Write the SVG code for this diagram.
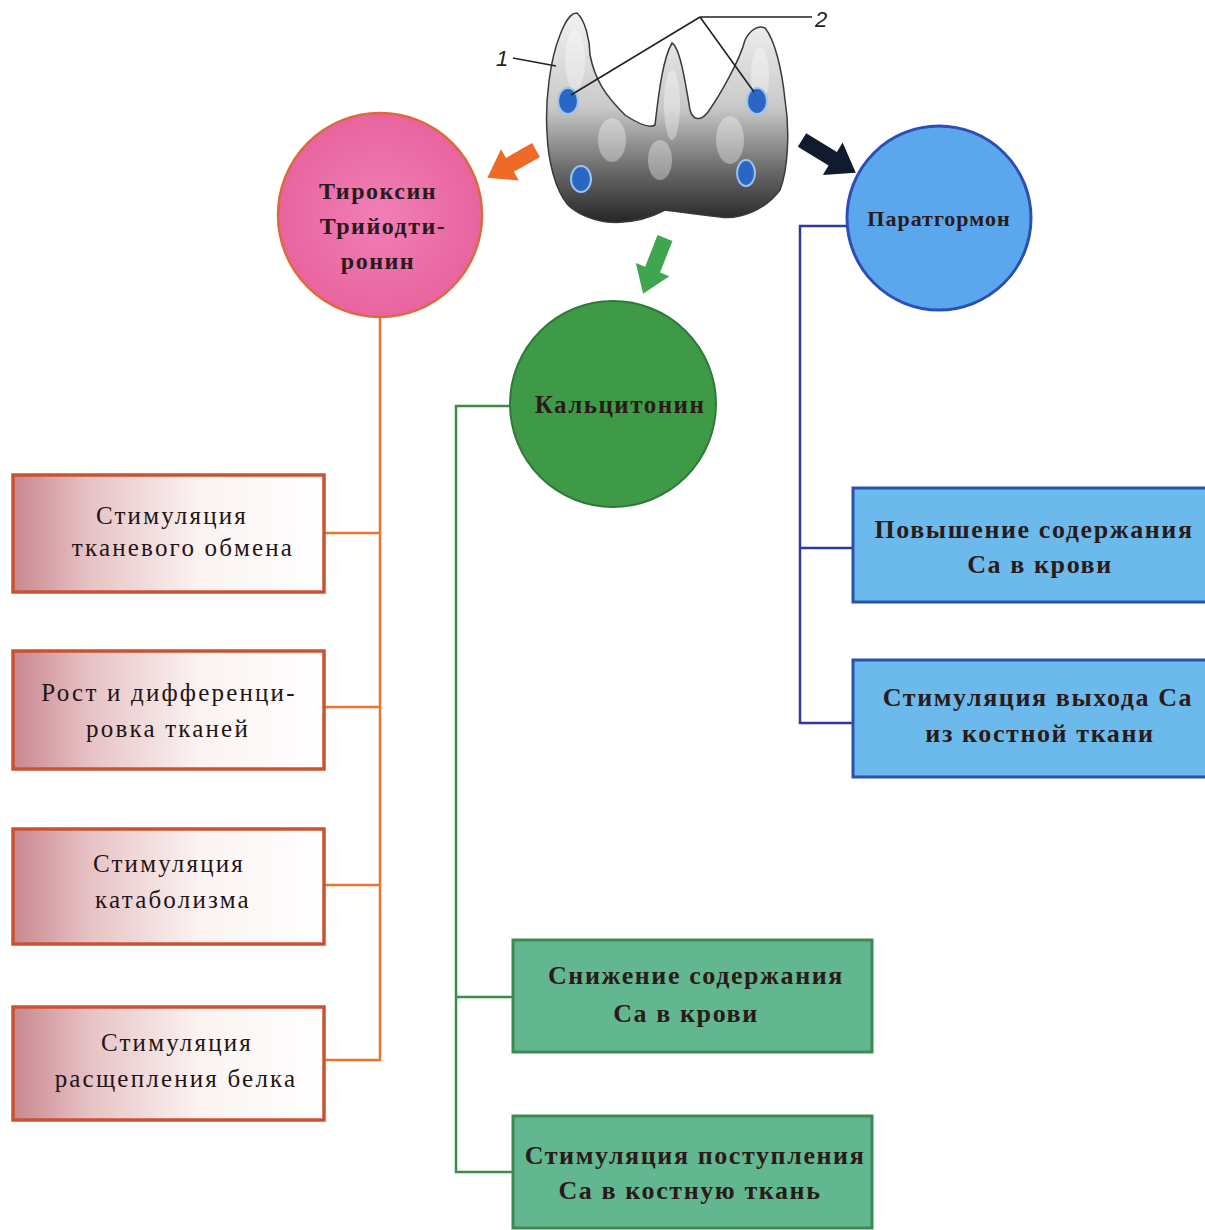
<svg xmlns="http://www.w3.org/2000/svg" width="1205" height="1230" viewBox="0 0 1205 1230">
  <defs>
    <linearGradient id="gland" x1="0" y1="0" x2="0" y2="1">
      <stop offset="0" stop-color="#f2f2f2"/>
      <stop offset="0.45" stop-color="#c9c9c9"/>
      <stop offset="0.75" stop-color="#6a6a6a"/>
      <stop offset="1" stop-color="#262626"/>
    </linearGradient>
    <radialGradient id="pinkFill" cx="0.5" cy="0.5" r="0.5">
      <stop offset="0" stop-color="#f07fb6"/>
      <stop offset="1" stop-color="#e9649f"/>
    </radialGradient>
    <linearGradient id="roseBox" x1="0" y1="0" x2="1" y2="0">
      <stop offset="0" stop-color="#c8878f"/>
      <stop offset="0.25" stop-color="#e7c3c6"/>
      <stop offset="0.6" stop-color="#fbf3f2"/>
      <stop offset="1" stop-color="#ffffff"/>
    </linearGradient>
    <style>
      .lbl { font-family: "Liberation Serif", "DejaVu Serif", serif; text-anchor: middle; fill: #2a1a1a; }
      .rose { font-size: 25px; letter-spacing: 2.2px; fill: #231414; }
      .bold { font-weight: bold; font-size: 26px; letter-spacing: 1.6px; }
      .circ { font-weight: bold; font-size: 24px; letter-spacing: 1.5px; }
      .roseRect { fill: url(#roseBox); stroke: #c9532f; stroke-width: 3.5; }
      .greenRect { fill: #62b790; stroke: #3d8a55; stroke-width: 3; }
      .blueRect { fill: #6cbaeb; stroke: #2c50ad; stroke-width: 3; }
      .orangeLine { fill: none; stroke: #e8762e; stroke-width: 2.5; }
      .greenLine { fill: none; stroke: #3c8c4a; stroke-width: 2.5; }
      .blueLine { fill: none; stroke: #2c3c9a; stroke-width: 2.5; }
      .leader { fill: none; stroke: #222; stroke-width: 1.6; }
      .num { font-family: "Liberation Sans", "DejaVu Sans", sans-serif; font-style: italic; font-size: 22px; fill: #222; }
    </style>
  </defs>

  <rect width="1205" height="1230" fill="#ffffff"/>

  <!-- thyroid gland with four parathyroid glands -->
  <g id="gland">
    <path d="M577,13 C585,20 590,40 590,55 C595,80 605,95 625,115 C640,125 650,128 655,125 C658,100 662,60 672,43 C680,48 685,80 690,110 C693,120 700,122 708,112 C720,95 740,60 745,40 C750,30 758,25 765,28 C775,40 782,70 785,100 C790,130 788,170 780,190 C765,210 740,220 720,217 C700,215 680,212 665,210 C650,218 630,224 607,222 C590,220 575,212 568,205 C555,190 548,160 547,133 C545,100 550,60 560,35 C565,22 570,13 577,13 Z" fill="url(#gland)" stroke="#3a3a3a" stroke-width="1.5"/>
    <g fill="#ffffff" opacity="0.35">
      <ellipse cx="575" cy="60" rx="10" ry="30"/>
      <ellipse cx="612" cy="140" rx="14" ry="22"/>
      <ellipse cx="672" cy="105" rx="8" ry="35"/>
      <ellipse cx="660" cy="160" rx="12" ry="20"/>
      <ellipse cx="730" cy="140" rx="14" ry="24"/>
      <ellipse cx="760" cy="75" rx="9" ry="28"/>
    </g>
    <g fill="#2a67c4" stroke="#9cc4ee" stroke-width="2">
      <ellipse cx="568" cy="101" rx="10" ry="13"/>
      <ellipse cx="581" cy="179" rx="10" ry="13"/>
      <ellipse cx="757" cy="101" rx="10" ry="13"/>
      <ellipse cx="746" cy="173" rx="9" ry="13"/>
    </g>
    <path class="leader" d="M513,58 L556,66"/>
    <path class="leader" d="M700,17 L812,17 M700,17 L571,95 M700,17 L754,92"/>
    <text class="num" x="496" y="66">1</text>
    <text class="num" x="815" y="27">2</text>
  </g>

  <!-- connectors and hormone arrows -->
  <g id="connectors">
    <path class="orangeLine" d="M380,318 V1060 H325 M325,533 H380 M325,707 H380 M325,885 H380"/>
    <path class="greenLine" d="M510,406 H456 V1172 H512 M456,997 H512"/>
    <path class="blueLine" d="M848,226 H800 V723 H852 M800,548 H852"/>
    <polygon points="0,-8 30,-8 30,-18 56,0 30,18 30,8 0,8" fill="#ef6a26" transform="translate(536,150) rotate(150.3)"/>
    <polygon points="0,-8 36,-8 36,-19 63,0 36,19 36,8 0,8" fill="#111b2e" transform="translate(802,140) rotate(31.4)"/>
    <polygon points="0,-8 34,-8 34,-18 60,0 34,18 34,8 0,8" fill="#3fa54e" transform="translate(665,238) rotate(111.4)"/>
  </g>

  <g id="thyroxine">
    <circle cx="380" cy="215" r="102" fill="url(#pinkFill)" stroke="#dc6a3c" stroke-width="2.5"/>
    <text class="lbl circ" x="378" y="199">Тироксин</text>
    <text class="lbl circ" x="383" y="234">Трийодти-</text>
    <text class="lbl circ" x="378" y="269">ронин</text>
  </g>

  <g id="calcitonin">
    <circle cx="613" cy="404" r="103" fill="#3f9a48" stroke="#2f7a38" stroke-width="2"/>
    <text class="lbl circ" x="620" y="413" fill="#122012" style="font-size:25px">Кальцитонин</text>
  </g>

  <g id="parathormone">
    <circle cx="939" cy="218" r="92" fill="#5aa7ee" stroke="#2d4fb5" stroke-width="3"/>
    <text class="lbl circ" x="939" y="226" style="font-size:22px;letter-spacing:1px">Паратгормон</text>
  </g>

  <g id="tissue-metabolism">
    <rect class="roseRect" x="13" y="475" width="311" height="117"/>
    <text class="lbl rose" x="172" y="524">Стимуляция</text>
    <text class="lbl rose" x="183" y="556">тканевого  обмена</text>
  </g>

  <g id="growth">
    <rect class="roseRect" x="13" y="651" width="311" height="118"/>
    <text class="lbl rose" x="169" y="701">Рост и дифференци-</text>
    <text class="lbl rose" x="168" y="737">ровка тканей</text>
  </g>

  <g id="catabolism">
    <rect class="roseRect" x="13" y="829" width="311" height="115"/>
    <text class="lbl rose" x="169" y="872">Стимуляция</text>
    <text class="lbl rose" x="173" y="908">катаболизма</text>
  </g>

  <g id="protein-breakdown">
    <rect class="roseRect" x="13" y="1007" width="311" height="113"/>
    <text class="lbl rose" x="177" y="1051">Стимуляция</text>
    <text class="lbl rose" x="176" y="1087">расщепления белка</text>
  </g>

  <g id="ca-decrease">
    <rect class="greenRect" x="513" y="940" width="359" height="112"/>
    <text class="lbl bold" x="696" y="984">Снижение содержания</text>
    <text class="lbl bold" x="686" y="1022">Са  в крови</text>
  </g>

  <g id="ca-to-bone">
    <rect class="greenRect" x="513" y="1116" width="359" height="112"/>
    <text class="lbl bold" x="695" y="1164">Стимуляция поступления</text>
    <text class="lbl bold" x="690" y="1199">Са в костную ткань</text>
  </g>

  <g id="ca-increase">
    <rect class="blueRect" x="853" y="488" width="356" height="114"/>
    <text class="lbl bold" x="1034" y="538">Повышение содержания</text>
    <text class="lbl bold" x="1040" y="573">Са  в крови</text>
  </g>

  <g id="ca-from-bone">
    <rect class="blueRect" x="853" y="660" width="356" height="117"/>
    <text class="lbl bold" x="1038" y="706">Стимуляция выхода Са</text>
    <text class="lbl bold" x="1040" y="742">из костной ткани</text>
  </g>
</svg>
